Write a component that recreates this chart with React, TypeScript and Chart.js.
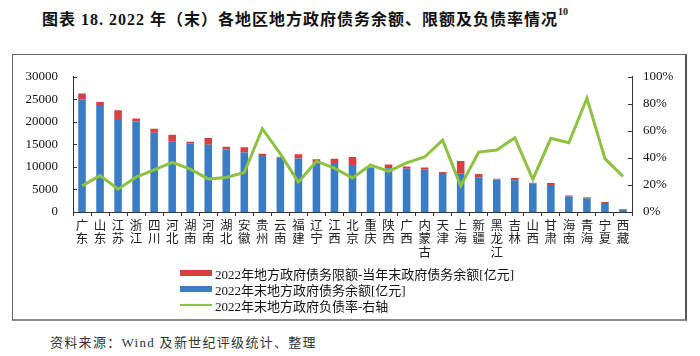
import React, { useEffect, useRef } from 'react';
import { Chart, registerables } from 'chart.js';

Chart.register(...registerables);

const regions = [
  '广东', '山东', '江苏', '浙江', '四川', '河北', '湖南', '河南', '湖北', '安徽',
  '贵州', '云南', '福建', '辽宁', '江西', '北京', '重庆', '陕西', '广西', '内蒙古',
  '天津', '上海', '新疆', '黑龙江', '吉林', '山西', '甘肃', '海南', '青海', '宁夏', '西藏',
];

// 2022年末地方政府债务余额[亿元]
const debtBalance = [
  25000, 23500, 20640, 20080, 17570, 15710, 15280, 14930, 13860, 13220,
  12430, 12070, 11850, 10930, 10860, 10430, 9860, 9710, 9570, 9360,
  8640, 8500, 7710, 7220, 7070, 6360, 6000, 3430, 3000, 2000, 500,
];

// 2022年地方政府债务限额-当年末政府债务余额[亿元]
const limitGap = [
  1290, 930, 1930, 640, 930, 1430, 290, 1500, 640, 1140,
  500, 210, 940, 790, 930, 1780, 90, 850, 500, 500,
  210, 2790, 710, 140, 500, 140, 430, 210, 290, 210, 140,
];

// 2022年末地方政府负债率(%)-右轴
const debtRatio = [
  19.3, 26.9, 16.9, 25.9, 31.2, 36.7, 31.7, 24.5, 25.5, 29.3,
  61.6, 43.0, 22.1, 37.6, 32.4, 25.1, 34.8, 30.0, 36.4, 40.7,
  53.1, 19.3, 44.3, 45.9, 55.0, 24.1, 54.5, 51.2, 84.1, 39.5, 26.4,
];

const leftTicks = [0, 5000, 10000, 15000, 20000, 25000, 30000];
const rightTicks = [0, 20, 40, 60, 80, 100];

const BLUE = '#3B7DC4';
const RED = '#D6403F';
const GREEN = '#8DC23F';
const AXIS = '#333333';

const inwardTicks = {
  id: 'inwardTicks',
  afterDraw(chart: any) {
    const ctx = chart.ctx;
    const y = chart.scales.y;
    const y1 = chart.scales.y1;
    ctx.save();
    ctx.strokeStyle = AXIS;
    ctx.lineWidth = 1;
    y.ticks.forEach((_t: any, i: number) => {
      const p = Math.round(y.getPixelForTick(i)) + 0.5;
      ctx.beginPath();
      ctx.moveTo(y.right, p);
      ctx.lineTo(y.right + 4, p);
      ctx.stroke();
    });
    y1.ticks.forEach((_t: any, i: number) => {
      const p = Math.round(y1.getPixelForTick(i)) + 0.5;
      ctx.beginPath();
      ctx.moveTo(y1.left - 4, p);
      ctx.lineTo(y1.left, p);
      ctx.stroke();
    });
    ctx.restore();
  },
};

const latinCjk = '"Liberation Serif", "Noto Sans CJK SC", serif';

export default function App() {
  const ref = useRef<HTMLCanvasElement | null>(null);

  useEffect(() => {
    if (!ref.current) return;
    const chart = new Chart(ref.current, {
      type: 'bar',
      data: {
        labels: regions.map((r) => r.split('')),
        datasets: [
          {
            type: 'line',
            label: '2022年末地方政府负债率-右轴',
            data: debtRatio,
            yAxisID: 'y1',
            borderColor: GREEN,
            backgroundColor: GREEN,
            borderWidth: 3,
            pointRadius: 0,
            tension: 0,
            order: 0,
          } as any,
          {
            type: 'bar',
            label: '2022年末地方政府债务余额[亿元]',
            data: debtBalance,
            yAxisID: 'y',
            backgroundColor: BLUE,
            barPercentage: 0.42,
            categoryPercentage: 1,
            stack: 's',
            order: 1,
          },
          {
            type: 'bar',
            label: '2022年地方政府债务限额-当年末政府债务余额[亿元]',
            data: limitGap,
            yAxisID: 'y',
            backgroundColor: RED,
            barPercentage: 0.42,
            categoryPercentage: 1,
            stack: 's',
            order: 1,
          },
        ],
      },
      options: {
        animation: false,
        responsive: false,
        devicePixelRatio: 1,
        layout: { padding: { top: 18, left: 0, right: 0, bottom: 0 } },
        plugins: { legend: { display: false }, tooltip: { enabled: false } },
        scales: {
          x: {
            stacked: true,
            offset: true,
            grid: {
              display: true,
              drawOnChartArea: false,
              drawTicks: true,
              tickLength: 4,
              color: AXIS,
              offset: true,
            },
            border: { display: true, color: AXIS, width: 1 },
            ticks: {
              autoSkip: false,
              maxRotation: 0,
              minRotation: 0,
              padding: 2,
              color: '#222',
              font: { family: '"Noto Sans CJK SC", sans-serif', size: 12.5, lineHeight: 1.1 },
            },
            afterFit: (s: any) => {
              s.height = 56;
            },
          },
          y: {
            stacked: true,
            position: 'left',
            min: 0,
            max: 30000,
            afterBuildTicks: (s: any) => {
              s.ticks = leftTicks.map((v) => ({ value: v }));
            },
            ticks: {
              padding: 15,
              color: '#111',
              font: { family: 'Liberation Serif', size: 13 },
              callback: (v: any) => String(v),
            },
            grid: { display: false, drawTicks: false },
            border: { display: true, color: AXIS, width: 1 },
            afterFit: (s: any) => {
              s.width = 61;
            },
          },
          y1: {
            position: 'right',
            min: 0,
            max: 100,
            afterBuildTicks: (s: any) => {
              s.ticks = rightTicks.map((v) => ({ value: v }));
            },
            ticks: {
              padding: 11,
              color: '#111',
              font: { family: 'Liberation Serif', size: 13 },
              callback: (v: any) => v + '%',
            },
            grid: { display: false, drawOnChartArea: false, drawTicks: false },
            border: { display: true, color: AXIS, width: 1 },
            afterFit: (s: any) => {
              s.width = 54;
            },
          },
        },
      } as any,
      plugins: [inwardTicks],
    });
    return () => chart.destroy();
  }, []);

  const legendItems = [
    { label: '2022年地方政府债务限额-当年末政府债务余额[亿元]', color: RED, kind: 'bar' },
    { label: '2022年末地方政府债务余额[亿元]', color: BLUE, kind: 'bar' },
    { label: '2022年末地方政府负债率-右轴', color: GREEN, kind: 'line' },
  ];

  return (
    <div
      style={{
        position: 'absolute',
        left: 0,
        top: 0,
        width: 700,
        height: 356,
        background: '#fff',
        overflow: 'hidden',
      }}
    >
      <div
        style={{
          position: 'absolute',
          left: 42,
          top: 8,
          whiteSpace: 'nowrap',
          fontFamily: latinCjk,
          fontWeight: 700,
          fontSize: 16,
          lineHeight: '24px',
          letterSpacing: 1,
          color: '#111',
        }}
      >
        图表 18. 2022 年（末）各地区地方政府债务余额、限额及负债率情况
        <sup style={{ fontSize: 10, letterSpacing: 0, verticalAlign: 'top', lineHeight: '14px', position: 'relative', top: -3 }}>10</sup>
      </div>
      <div
        style={{
          position: 'absolute',
          left: 12,
          top: 54,
          width: 672,
          height: 264,
          borderTop: '1px solid #666',
          borderLeft: '1px solid #666',
          borderRight: '2px solid #555',
          borderBottom: '2px solid #8a8a8a',
        }}
      />
      <canvas
        ref={ref}
        width={674}
        height={214}
        style={{ position: 'absolute', left: 12, top: 54, width: 674, height: 214 }}
      />
      {legendItems.map((it, i) => (
        <div
          key={i}
          style={{
            position: 'absolute',
            left: 180,
            top: 265 + i * 16,
            height: 16,
            display: 'flex',
            alignItems: 'center',
            whiteSpace: 'nowrap',
            fontFamily: latinCjk,
            fontSize: 13,
            color: '#111',
          }}
        >
          <span
            style={{
              display: 'inline-block',
              width: 32,
              height: it.kind === 'bar' ? 6 : 2.5,
              background: it.color,
              marginRight: 3,
            }}
          />
          {it.label}
        </div>
      ))}
      <div
        style={{
          position: 'absolute',
          left: 50,
          top: 333,
          whiteSpace: 'nowrap',
          fontFamily: latinCjk,
          fontSize: 13,
          lineHeight: '20px',
          letterSpacing: 1.3,
          color: '#333',
        }}
      >
        资料来源：Wind 及新世纪评级统计、整理
      </div>
    </div>
  );
}
